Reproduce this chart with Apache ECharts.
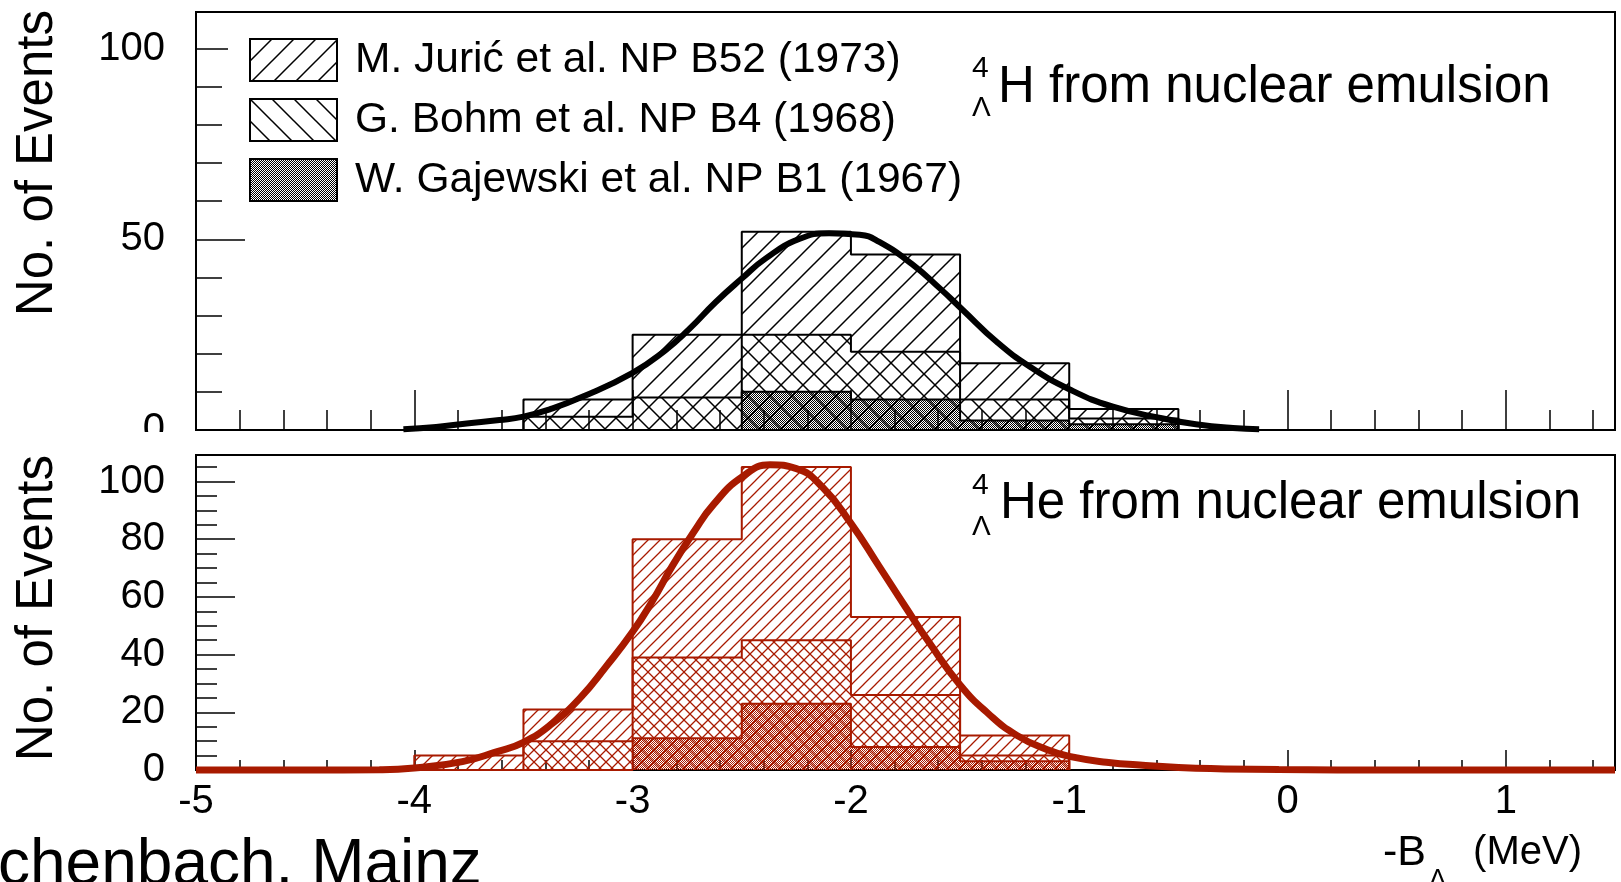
<!DOCTYPE html>
<html>
<head>
<meta charset="utf-8">
<script src="https://cdn.jsdelivr.net/npm/echarts@6.0.0/dist/echarts.min.js"></script>
<style>
html,body{margin:0;padding:0;background:#fff;}
#chart{width:1621px;height:882px;}
</style>
</head>
<body>
<div id="chart"></div>
<script>
// ---------------- data ----------------
const sourceNames = ['M. Jurić et al. NP B52 (1973)', 'G. Bohm et al. NP B4 (1968)', 'W. Gajewski et al. NP B1 (1967)'];

// 4ΛH panel: bin edges (MeV) and per-source event counts
const binEdgesH  = [-3.5, -3.0, -2.5, -2.0, -1.5, -1.0, -0.5];
const juricH     = [4.5, 16.5, 27, 25.5, 9.5, 2.5];
const bohmH      = [3.5, 8.5, 15, 12.5, 5.5, 1.5];
const gajewskiH  = [0, 0, 10, 8, 2.5, 1.5];

// 4ΛHe panel
const binEdgesHe = [-4.0, -3.5, -3.0, -2.5, -2.0, -1.5, -1.0];
const juricHe    = [5, 11, 41, 60, 27, 7];
const bohmHe     = [0, 10, 28, 22, 18, 2];
const gajewskiHe = [0, 0, 11, 23, 8, 3];

// fitted curves
const fitH_x  = [-4.05, -3.9, -3.76, -3.61, -3.5, -3.38, -3.23, -3.0, -2.85, -2.74, -2.62, -2.5, -2.39, -2.24, -2.1, -1.96, -1.87, -1.72, -1.59, -1.49, -1.33, -1.18, -1.0, -0.8, -0.57, -0.42, -0.25, -0.13];
const fitH_y  = [0.2, 0.8, 1.7, 2.6, 3.5, 5.4, 8.7, 15.0, 20.9, 26.5, 33.5, 39.7, 45.0, 50.0, 51.6, 51.2, 49.3, 43.5, 37.0, 31.6, 23.0, 16.6, 10.7, 6.1, 3.0, 1.5, 0.5, 0.2];
const fitHe_x = [-5.0, -4.5, -4.16, -4.0, -3.78, -3.62, -3.5, -3.37, -3.24, -3.12, -3.0, -2.91, -2.82, -2.72, -2.63, -2.5, -2.37, -2.25, -2.13, -2.0, -1.87, -1.75, -1.64, -1.5, -1.37, -1.24, -1.1, -1.0, -0.83, -0.65, -0.42, -0.04, 0.5, 1.0, 1.5];
const fitHe_y = [0, 0, 0.1, 0.7, 2.9, 6.4, 9.6, 16.0, 25.0, 36.0, 47.9, 58.5, 70.5, 82.5, 92.0, 101.5, 105.8, 104.5, 98.0, 85.5, 70.5, 56.5, 44.0, 29.5, 19.5, 12.0, 7.0, 4.7, 2.7, 1.6, 0.6, 0.2, 0, 0, 0];

// tick labels
const xTickLabels      = ['-5', '-4', '-3', '-2', '-1', '0', '1'];
const yTickLabelsTop   = ['0', '50', '100'];
const yTickLabelsBot   = ['0', '20', '40', '60', '80', '100'];

// ---------------- helpers ----------------
const FONT = '"Liberation Sans", Arial, Helvetica, sans-serif';
const RED = '#a81a00';

function hatchTile(size, dir, color, lw) {
  const c = document.createElement('canvas');
  c.width = size; c.height = size;
  const g = c.getContext('2d');
  g.strokeStyle = color; g.lineWidth = lw;
  g.beginPath();
  for (let k = -1; k <= 1; k++) {
    if (dir > 0) { g.moveTo(-2 + k * size, size + 2); g.lineTo(size + 2 + k * size, -2); }
    else { g.moveTo(-2 + k * size, -2); g.lineTo(size + 2 + k * size, size + 2); }
  }
  g.stroke();
  return { image: c, repeat: 'repeat' };
}
function dotTile(color) {
  const c = document.createElement('canvas');
  c.width = 2; c.height = 2;
  const g = c.getContext('2d');
  g.fillStyle = color;
  g.fillRect(0, 0, 1, 1); g.fillRect(1, 1, 1, 1);
  return { image: c, repeat: 'repeat' };
}
function cumulative(a, b, c) { return a.map((v, i) => v + (b ? b[i] : 0) + (c ? c[i] : 0)); }
function stepData(edges, counts) {
  const pts = [[edges[0], 0]];
  for (let i = 0; i < counts.length; i++) pts.push([edges[i], counts[i]]);
  pts.push([edges[edges.length - 1], counts[counts.length - 1]]);
  pts.push([edges[edges.length - 1], 0]);
  return pts;
}
function zip(xs, ys) { return xs.map((x, i) => [x, ys[i]]); }

const patFwdK  = hatchTile(22, 1, '#000', 1.5);
const patBackK = hatchTile(22, -1, '#000', 1.5);
const patDotK  = dotTile('#000');
const patFwdR  = hatchTile(12, 1, RED, 1.3);
const patBackR = hatchTile(12, -1, RED, 1.3);
const patDotR  = dotTile(RED);

function histSeries(name, edges, counts, color, pattern, xi, yi) {
  return {
    type: 'line', name: name, step: 'end', data: stepData(edges, counts),
    xAxisIndex: xi, yAxisIndex: yi, symbol: 'none', showSymbol: false, silent: true,
    color: color,
    lineStyle: { color: color, width: 2 },
    areaStyle: { color: pattern, opacity: 1 },
    z: 2
  };
}
function fitSeries(name, xs, ys, color, width, xi, yi) {
  return {
    type: 'line', name: name, data: zip(xs, ys), xAxisIndex: xi, yAxisIndex: yi,
    symbol: 'none', showSymbol: false, silent: true, smooth: 0.5,
    clip: false, color: color, lineStyle: { color: color, width: width }, z: 5
  };
}
function xAxisDef(gi, interval, tickLen, showLine, labels) {
  return {
    type: 'value', gridIndex: gi, position: 'bottom', min: -5, max: 1.5, interval: interval,
    axisLine: { show: showLine, onZero: false, lineStyle: { color: '#000', width: 2 } },
    axisTick: { show: true, inside: true, length: tickLen, lineStyle: { color: '#000', width: 1.5 } },
    splitLine: { show: false },
    axisLabel: labels ? {
      show: true, margin: 12, fontSize: 40, fontFamily: FONT, color: '#000',
      formatter: v => { const s = String(Math.round(v * 1000) / 1000); return xTickLabels.includes(s) ? s : ''; }
    } : { show: false }
  };
}
function yAxisDef(gi, max, interval, tickLen, showLine, labelList) {
  return {
    type: 'value', gridIndex: gi, min: 0, max: max, interval: interval, position: 'left',
    axisLine: { show: showLine, onZero: false, lineStyle: { color: '#000', width: 2 } },
    axisTick: { show: true, inside: true, length: tickLen, lineStyle: { color: '#000', width: 1.5 } },
    splitLine: { show: false },
    axisLabel: labelList ? {
      show: true, margin: 31, fontSize: 40, fontFamily: FONT, color: '#000',
      formatter: v => { const s = String(Math.round(v * 1000) / 1000); return labelList.includes(s) ? s : ''; }
    } : { show: false }
  };
}

const totH = cumulative(juricH, bohmH, gajewskiH);
const bgH  = cumulative(bohmH, gajewskiH);
const gH   = cumulative(gajewskiH);
const totHe = cumulative(juricHe, bohmHe, gajewskiHe);
const bgHe  = cumulative(bohmHe, gajewskiHe);
const gHe   = cumulative(gajewskiHe);

const option = {
  backgroundColor: '#fff',
  animation: false,
  grid: [
    { left: 196, top: 12, width: 1419, height: 418, show: true, borderColor: '#000', borderWidth: 2, backgroundColor: 'transparent', outerBoundsMode: 'none', containLabel: false },
    { left: 196, top: 455, width: 1419, height: 315, show: true, borderColor: '#000', borderWidth: 2, backgroundColor: 'transparent', outerBoundsMode: 'none', containLabel: false }
  ],
  xAxis: [
    xAxisDef(0, 1, 40, true, false),
    xAxisDef(0, 0.2, 20, false, false),
    xAxisDef(1, 1, 20, true, true),
    xAxisDef(1, 0.2, 10, false, false)
  ],
  yAxis: [
    yAxisDef(0, 109.6, 50, 49, true, yTickLabelsTop),
    yAxisDef(0, 109.6, 10, 26, false, null),
    yAxisDef(1, 109.2, 20, 39, true, yTickLabelsBot),
    yAxisDef(1, 109.2, 5, 21, false, null)
  ],
  legend: {
    left: 228, top: 26, orient: 'vertical', padding: [12, 14, 12, 21],
    backgroundColor: '#fff', itemWidth: 87, itemHeight: 42, itemGap: 16, selectedMode: false,
    textStyle: { fontFamily: FONT, fontSize: 42.5, color: '#000', lineHeight: 42, padding: [-6, 0, 6, 13] },
    data: [
      { name: sourceNames[0], icon: 'rect', itemStyle: { color: patFwdK, borderColor: '#000', borderWidth: 2 } },
      { name: sourceNames[1], icon: 'rect', itemStyle: { color: patBackK, borderColor: '#000', borderWidth: 2 } },
      { name: sourceNames[2], icon: 'rect', itemStyle: { color: patDotK, borderColor: '#000', borderWidth: 2 } }
    ]
  },
  series: [
    histSeries(sourceNames[0], binEdgesH, totH, '#000', patFwdK, 0, 0),
    histSeries(sourceNames[1], binEdgesH, bgH, '#000', patBackK, 0, 0),
    histSeries(sourceNames[2], binEdgesH, gH, '#000', patDotK, 0, 0),
    fitSeries('fit 4ΛH', fitH_x, fitH_y, '#000', 6, 0, 0),
    histSeries(sourceNames[0], binEdgesHe, totHe, RED, patFwdR, 2, 2),
    histSeries(sourceNames[1], binEdgesHe, bgHe, RED, patBackR, 2, 2),
    histSeries(sourceNames[2], binEdgesHe, gHe, RED, patDotR, 2, 2),
    fitSeries('fit 4ΛHe', fitHe_x, fitHe_y, RED, 7, 2, 2)
  ],
  graphic: [
    // cover the lower part of the top panel's "0" label (cut off in the original)
    { type: 'rect', shape: { x: 90, y: 432, width: 100, height: 21 }, style: { fill: '#fff' }, z: 100 },
    { type: 'text', x: 38, y: 10, rotation: Math.PI / 2, z: 100,
      style: { text: 'No. of Events', fontSize: 51, fontFamily: FONT, fill: '#000', align: 'right', verticalAlign: 'middle' } },
    { type: 'text', x: 38, y: 455, rotation: Math.PI / 2, z: 100,
      style: { text: 'No. of Events', fontSize: 51, fontFamily: FONT, fill: '#000', align: 'right', verticalAlign: 'middle' } },
    { type: 'text', x: 972, y: 69, z: 100, style: { text: '4', fontSize: 30, fontFamily: FONT, fill: '#000', verticalAlign: 'middle' } },
    { type: 'text', x: 972, y: 108, z: 100, style: { text: 'Λ', fontSize: 28, fontFamily: FONT, fill: '#000', verticalAlign: 'middle' } },
    { type: 'text', x: 998, y: 88, z: 100, style: { text: 'H from nuclear emulsion', fontSize: 51, fontFamily: FONT, fill: '#000', verticalAlign: 'middle' } },
    { type: 'text', x: 972, y: 486, z: 100, style: { text: '4', fontSize: 30, fontFamily: FONT, fill: '#000', verticalAlign: 'middle' } },
    { type: 'text', x: 972, y: 527, z: 100, style: { text: 'Λ', fontSize: 28, fontFamily: FONT, fill: '#000', verticalAlign: 'middle' } },
    { type: 'text', x: 1000, y: 504, z: 100, style: { text: 'He from nuclear emulsion', fontSize: 51, fontFamily: FONT, fill: '#000', verticalAlign: 'middle' } },
    { type: 'text', x: 1383, y: 853, z: 100, style: { text: '-B', fontSize: 43, fontFamily: FONT, fill: '#000', verticalAlign: 'middle' } },
    { type: 'text', x: 1429, y: 880, z: 100, style: { text: 'Λ', fontSize: 26, fontFamily: FONT, fill: '#000', verticalAlign: 'middle' } },
    { type: 'text', x: 1582, y: 853, z: 100, style: { text: '(MeV)', fontSize: 40, fontFamily: FONT, fill: '#000', align: 'right', verticalAlign: 'middle' } },
    { type: 'text', x: -2, y: 866, z: 100, style: { text: 'chenbach. Mainz', fontSize: 64, fontFamily: FONT, fill: '#000', verticalAlign: 'middle' } }
  ]
};

const chart = echarts.init(document.getElementById('chart'), null, { renderer: 'canvas' });
chart.setOption(option);
</script>
</body>
</html>
